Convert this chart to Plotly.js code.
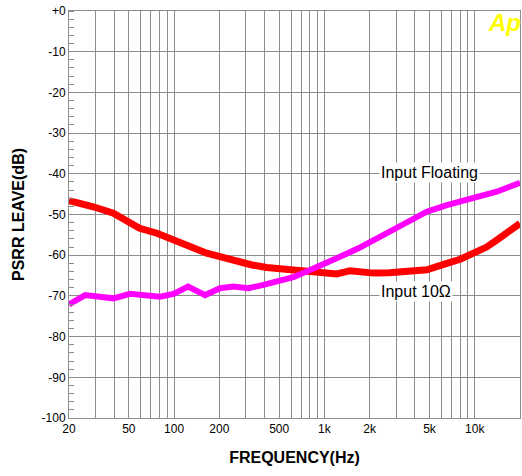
<!DOCTYPE html>
<html>
<head>
<meta charset="utf-8">
<script src="https://cdn.plot.ly/plotly-3.0.1.min.js"></script>
<style>html,body{margin:0;padding:0;background:#fff;}#chart{width:522px;height:476px;}</style>
</head>
<body>
<div id="chart"></div>
<script>
// Input 10 Ohm (red)
const freq10 = [20, 25, 29, 39.5, 50, 59, 77, 99, 130, 165, 210, 261, 330, 413, 520, 621, 845, 1208, 1482, 1700, 2118, 2700, 3530, 4800, 6520, 8000, 9800, 12000, 14000, 17000, 20000];
const psrr10 = [-46.6, -47.3, -48.1, -49.7, -51.6, -53.4, -54.6, -56.4, -58.0, -59.5, -60.6, -61.6, -62.4, -63.0, -63.4, -63.5, -64.3, -64.6, -63.8, -64.2, -64.4, -64.3, -64.0, -63.6, -62.0, -61.0, -59.5, -58.0, -56.3, -54.2, -52.2];
// Input Floating (magenta)
const freqFl = [20, 25.6, 32, 39.5, 51, 66, 80.6, 99, 124, 161, 202, 248, 312, 393, 507, 621, 762, 985, 1270, 1683, 2118, 2700, 3530, 4800, 6520, 9800, 14000, 20000];
const psrrFl = [-72.1, -69.8, -70.2, -70.6, -69.5, -69.7, -70.2, -69.5, -67.7, -69.8, -68.1, -67.7, -68.1, -67.3, -66.1, -65.4, -64.0, -62.0, -60.4, -58.3, -56.3, -54.0, -51.8, -49.3, -47.7, -46.0, -44.4, -42.2];

const xTickVals = [20,30,40,50,60,70,80,90,100,200,300,400,500,600,700,800,900,1000,2000,3000,4000,5000,6000,7000,8000,9000,10000,20000];
const xTickText = ['20','','','50','','','','','100','200','','','500','','','','','1k','2k','','','5k','','','','','10k','20k'];
const yTickVals = [0,-10,-20,-30,-40,-50,-60,-70,-80,-90,-100];
const yTickText = ['+0','-10','-20','-30','-40','-50','-60','-70','-80','-90','-100'];

const FONT = 'Liberation Sans, Arial, sans-serif';

const traces = [
  {x: freq10, y: psrr10, type: 'scatter', mode: 'lines', line: {color: '#ff0000', width: 7}, name: 'Input 10Ω'},
  {x: freqFl, y: psrrFl, type: 'scatter', mode: 'lines', line: {color: '#ff00ff', width: 6}, name: 'Input Floating'}
];

const layout = {
  width: 522, height: 476,
  margin: {l: 69, r: 2, t: 11, b: 58},
  paper_bgcolor: '#fff', plot_bgcolor: '#fff',
  showlegend: false,
  font: {family: FONT, size: 12, color: '#000'},
  xaxis: {
    type: 'log', range: [Math.log10(20), Math.log10(20000)],
    tickmode: 'array', tickvals: xTickVals, ticktext: xTickText,
    showgrid: true, gridcolor: '#8c8c8c', gridwidth: 1,
    showline: true, linecolor: '#8c8c8c', linewidth: 1, mirror: true,
    ticks: '', zeroline: false,
    tickfont: {family: FONT, size: 12, color: '#000'},
    title: {text: '<b>FREQUENCY(Hz)</b>', font: {family: FONT, size: 16, color: '#000'}, standoff: 16}
  },
  yaxis: {
    range: [-100, 0],
    tickmode: 'array', tickvals: yTickVals, ticktext: yTickText,
    showgrid: true, gridcolor: '#8c8c8c', gridwidth: 1,
    showline: true, linecolor: '#8c8c8c', linewidth: 1, mirror: true,
    ticks: '', zeroline: false,
    minor: {dtick: 2, ticks: 'inside', ticklen: 5, tickcolor: '#8c8c8c', showgrid: false},
    tickfont: {family: FONT, size: 12, color: '#000'},
    title: {text: '<b>PSRR LEAVE(dB)</b>', font: {family: FONT, size: 16, color: '#000'}, standoff: 12}
  },
  annotations: [
    {xref: 'paper', yref: 'paper', x: 0.800, y: 0.602, text: 'Input Floating', showarrow: false,
     bgcolor: '#fff', borderpad: 1, font: {family: FONT, size: 16, color: '#000'}, xanchor: 'center', yanchor: 'middle'},
    {xref: 'paper', yref: 'paper', x: 0.769, y: 0.310, text: 'Input 10Ω', showarrow: false,
     bgcolor: '#fff', borderpad: 1, font: {family: FONT, size: 16, color: '#000'}, xanchor: 'center', yanchor: 'middle'},
    {xref: 'paper', yref: 'paper', x: 0.966, y: 0.972, text: '<b><i>Ap</i></b>', showarrow: false,
     font: {family: FONT, size: 24, color: '#ffff00'}, xanchor: 'center', yanchor: 'middle'}
  ]
};

Plotly.newPlot('chart', traces, layout, {displayModeBar: false, staticPlot: true});
</script>
</body>
</html>
